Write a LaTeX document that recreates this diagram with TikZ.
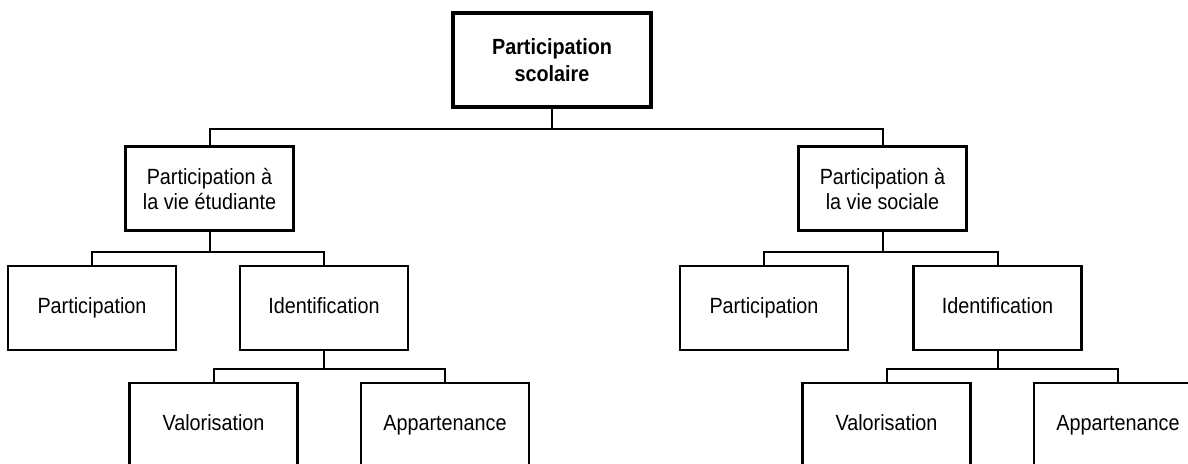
\documentclass[tikz,border=0pt]{standalone}
\usepackage{fontspec}
\setmainfont[FakeStretch=0.9]{Liberation Sans}
\usetikzlibrary{positioning}

\begin{document}
\begin{tikzpicture}[x=0.5pt,y=-0.5pt,
        box/.style={draw,line width=1.1pt,minimum width=84pt,minimum height=42pt,
            align=center,font=\fontsize{11}{12.5}\selectfont,inner sep=2pt},
        leaf/.style={box,text height=8pt,text depth=2.5pt},
        topbox/.style={box,line width=1.9pt,minimum width=99pt,minimum height=47pt,
            font=\fontsize{11}{13.5}\selectfont\bfseries},
        fork/.style={line width=1pt}]
        \clip (0,0) rectangle (1188,463);

        % Boxes
        \node [topbox] (ps) at (552,60) {Participation\\scolaire};

        \node [box] (etud) at (209.5,188.5) {Participation à\\la vie étudiante};
        \node [box] (soc)  at (882.5,188.5) {Participation à\\la vie sociale};

        \node [leaf] (partL) at (92,308)    {Participation};
        \node [leaf] (identL) at (324,308)  {Identification};
        \node [leaf] (partR) at (764,308)   {Participation};
        \node [leaf] (identR) at (997.5,308) {Identification};

        \node [leaf] (valL) at (213.5,425) {Valorisation};
        \node [leaf] (appL) at (445,425)   {Appartenance};
        \node [leaf] (valR) at (886.5,425) {Valorisation};
        \node [leaf] (appR) at (1118,425)  {Appartenance};

        % Connectors
        \draw [fork] (ps.south) -- +(0,20) -| (etud.north);
        \draw [fork] (ps.south) -- +(0,20) -| (soc.north);

        \draw [fork] (etud.south) -- +(0,20) -| (partL.north);
        \draw [fork] (etud.south) -- +(0,20) -| (identL.north);
        \draw [fork] (soc.south) -- +(0,20) -| (partR.north);
        \draw [fork] (soc.south) -- +(0,20) -| (identR.north);

        \draw [fork] (identL.south) -- +(0,18) -| (valL.north);
        \draw [fork] (identL.south) -- +(0,18) -| (appL.north);
        \draw [fork] (identR.south) -- +(0,18) -| (valR.north);
        \draw [fork] (identR.south) -- +(0,18) -| (appR.north);
    \end{tikzpicture}
\end{document}
